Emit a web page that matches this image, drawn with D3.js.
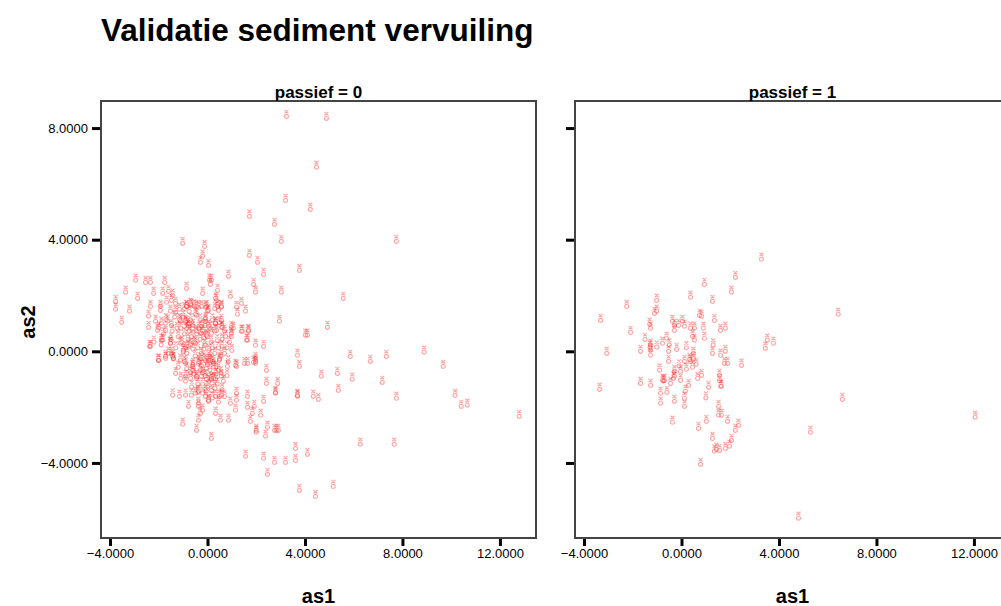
<!DOCTYPE html>
<html lang="en">
<head>
<meta charset="utf-8">
<title>Validatie sediment vervuiling</title>
<script src="https://d3js.org/d3.v7.min.js"></script>
<style>
  body { margin: 0; background: #fff; }
  svg { font-family: "Liberation Sans", Arial, sans-serif; }
</style>
</head>
<body>
<script>
// as1, as2 per object, split by passief
var passief0 = [
  [3.24,8.49],[4.88,8.42],[4.47,6.67],[3.20,5.48],[4.22,5.16],[1.72,4.91],[2.75,4.62],[3.03,4.01],[7.75,4.01],
  [-1.02,3.94],[-0.12,3.83],[1.72,3.51],[-0.20,3.48],[-0.29,3.26],[2.05,3.26],[0.04,3.15],[3.77,2.97],[2.30,2.83],
  [0.86,2.76],[-2.95,2.62],[-2.54,2.54],[-2.34,2.54],[-1.76,2.54],[0.08,2.62],[0.16,2.62],[0.12,2.47],[1.89,2.47],
  [-3.36,2.19],[-2.87,1.97],[-2.21,2.15],[-1.84,2.15],[-1.60,2.22],[-1.43,2.08],[-0.86,2.33],[-0.20,2.15],[0.41,2.26],
  [0.94,2.04],[1.97,2.19],[3.03,2.19],[5.57,1.97],[-3.77,1.86],[-3.77,1.58],[-3.20,1.51],[-3.52,1.11],[-2.34,1.68],
  [-1.93,1.68],[-1.68,1.83],[-1.48,1.90],[-1.31,1.79],[-1.93,1.54],[-1.52,1.51],[-1.31,1.47],[-2.42,1.33],[-2.13,1.15],
  [-1.89,1.08],[-1.64,1.15],[-1.48,1.00],[-2.42,0.93],[-2.05,0.82],[-1.72,0.82],[-2.38,0.25],[-1.89,0.47],[-1.52,0.36],
  [-2.01,-0.25],[-1.72,-0.11],[-1.43,-0.11],[0.37,1.90],[0.57,1.65],[0.45,1.54],[1.19,1.65],[1.39,1.79],[1.56,1.51],
  [1.23,1.40],[-1.15,1.58],[-0.86,1.68],[-0.70,1.76],[-0.37,1.65],[-0.08,1.65],[0.04,1.54],[-0.45,1.36],[-0.08,1.25],
  [0.33,1.08],[0.57,1.18],[0.61,0.93],[0.98,0.93],[0.98,0.61],[1.43,0.79],[1.68,0.79],[1.64,0.47],[1.97,0.29],[2.30,0.25],
  [2.95,1.15],[4.02,0.65],[4.10,0.65],[4.92,0.93],[3.69,-0.07],[5.86,-0.11],[6.68,-0.29],[7.34,-0.11],[8.89,0.04],
  [1.97,-0.29],[0.33,1.97],[0.41,1.68],[0.57,1.68],
  [-0.86,1.68],[-0.66,1.72],[-0.45,1.68],[-0.25,1.68],[-0.04,1.68],
  [-1.11,1.15],[-0.90,1.15],[-0.78,0.97],[-0.62,0.90],[-0.45,0.79],[-0.25,0.97],
  [-0.08,1.15],[0.04,0.97],[0.33,1.08],[0.37,0.82],[0.57,0.93],[-0.25,0.72],[-0.04,0.65],[0.16,0.72],
  [0.74,0.61],[0.98,0.72],[1.06,0.90],[1.39,0.79],[1.68,0.82],[1.60,0.47],
  [-2.34,0.25],[-1.84,0.47],[-1.52,0.36],[-1.48,0.00],[-1.11,0.36],[-0.98,0.11],[-0.78,0.25],[-0.49,0.36],
  [-2.01,-0.25],[-1.72,-0.18],[-1.40,-0.18],[-1.11,-0.25],[-0.90,-0.36],[-0.62,-0.47],[-0.37,-0.36],[-0.08,-0.25],
  [0.12,-0.25],[0.25,-0.36],[0.49,-0.25],[0.82,-0.47],[1.15,-0.43],[1.19,-0.47],[1.52,-0.36],[1.64,-0.36],[1.97,-0.18],
  [-1.31,-0.72],[-0.90,-0.82],[-0.70,-0.90],[-0.45,-0.82],[-0.25,-0.82],[-0.04,-0.93],[0.16,-0.90],[0.33,-0.93],
  [0.57,-0.82],[2.42,-1.08],
  [-1.43,-1.50],[-1.15,-1.54],[-0.90,-1.50],[-0.66,-1.50],[-0.49,-1.43],[-0.37,-1.36],[-0.20,-1.43],[-0.08,-1.54],
  [0.16,-1.33],[0.33,-1.54],[0.49,-1.54],[0.57,-1.50],[1.19,-1.43],[1.19,-1.68],[0.94,-1.79],[1.15,-2.04],[1.64,-1.54],
  [1.64,-1.94],[-0.78,-1.90],[-0.37,-1.79],[-0.37,-1.90],[0.04,-1.68],[0.04,-1.72],[-0.29,-2.15],[-0.37,-2.40],
  [-0.20,-2.04],[0.33,-2.15],[0.53,-2.40],[0.86,-2.40],[-1.02,-2.54],[-0.45,-2.76],[0.16,-3.05],
  [1.92,-1.90],[1.84,-2.15],[1.76,-2.44],[2.18,-2.22],[2.30,-1.72],[2.79,-1.43],[2.00,-2.76],[2.00,-2.83],
  [2.46,-2.65],[2.38,-2.97],[2.75,-2.76],[2.83,-2.76],[2.91,-2.76],
  [9.67,-0.47],[3.77,-0.47],[4.67,-0.82],[5.33,-0.72],[5.94,-0.93],[7.17,-1.04],[5.37,-1.33],[7.75,-1.61],
  [10.16,-1.51],[10.41,-1.90],[10.66,-1.86],[12.79,-2.26],[3.69,-1.51],[3.69,-1.54],[4.34,-1.54],[4.55,-1.65],
  [2.79,-1.40],[2.88,-1.08],[2.42,-0.61],[1.97,-0.36],[1.89,-0.32],
  [1.56,-3.69],[2.30,-3.76],[2.75,-3.91],[3.20,-3.91],[3.61,-3.84],[3.61,-3.41],[4.10,-3.62],[2.46,-4.34],
  [3.77,-4.91],[4.43,-5.13],[5.16,-4.77],[6.27,-3.26],[7.66,-3.26],
  // dichte kern
  [-1.0,1.3],[-0.9,1.1],[-0.85,0.9],[-0.95,0.7],[-0.7,1.2],[-0.6,1.0],[-0.75,0.8],[-0.65,0.6],[-0.8,0.5],
  [-1.1,0.9],[-1.2,0.6],[-1.05,0.4],[-0.9,0.2],[-0.7,0.3],[-0.55,0.4],[-0.45,0.7],[-0.4,0.2],[-0.3,0.5],
  [-0.2,0.8],[-0.25,0.0],[-0.1,0.3],[0.0,0.6],[0.05,0.1],[0.15,0.4],[-0.15,-0.2],[-0.35,-0.3],[0.0,-0.4],
  [0.1,-0.1],[0.2,-0.3],[-0.5,-0.1],[-0.6,-0.4],[-0.3,-0.6],[-0.1,-0.8],[0.1,-0.6],[0.25,-0.9],[-0.45,-0.9],
  [-0.7,-0.7],[-0.2,-1.1],[0.0,-1.2],[0.3,0.0],[0.35,-0.5],[0.45,0.2],[0.5,-0.2],[0.6,0.5],[0.55,-0.7],
  [0.7,0.0],[-1.3,0.2],[-1.4,-0.2],[-1.2,-0.5],[-0.95,-0.3],[-0.85,0.0],[-1.5,0.5],[-1.6,0.0],[-1.35,1.3],
  [-1.15,1.2],[-0.5,1.4],[-0.3,1.2],[-0.1,1.0],[0.1,0.9],[0.3,0.8],[0.2,1.2],[0.5,1.1],[0.7,0.8],[0.9,0.4],
  [0.85,-0.3],[1.0,0.1],[-0.65,-1.2],[-0.4,-1.4],[0.4,-1.1],[0.6,-1.3],[-0.9,-1.0],[-1.1,-0.9],[-0.75,1.5],
  [-0.95,1.6],[-0.55,1.7],[0.0,1.5],[0.3,1.6],[-1.25,0.9],[-1.45,0.8],[-1.7,1.2],[-1.8,0.7],[-2.0,0.9],
  [-1.9,0.3],[-2.2,0.4],[-0.85,-0.55],[-0.25,-0.45],[0.05,-0.25],[0.4,0.45],[-0.6,0.15],[-0.35,0.9],
  [-0.15,0.55],[-0.8,1.05],[-1.0,0.05],[0.2,0.2],[0.6,0.25],[-0.05,-0.55],[-0.55,-0.75],[0.15,-0.95],
  [0.35,-0.75],[-0.3,-0.2],
  [-0.2,-0.7],[0.05,-1.0],[0.3,-1.25],[0.45,-0.6],[0.65,-1.0],[0.8,-0.8],[-0.05,-1.35],[0.2,-1.6],
  [0.45,-1.75],[0.7,-1.55],[-0.4,-1.1],[-0.6,-0.6],[0.25,-0.5],[0.55,-0.1],[0.8,0.2],[-0.15,0.15]
];

var passief1 = [
  [3.28,3.37],[2.21,2.72],[0.94,2.47],[2.05,2.19],[-2.25,1.68],[-1.02,1.90],[0.37,2.01],[1.27,1.86],[-3.32,1.18],
  [-2.09,0.75],[-1.11,1.43],[-1.02,1.51],[-1.31,1.04],[-1.27,0.90],[-0.37,1.15],[-0.29,0.82],[-0.12,1.00],
  [0.04,1.15],[0.12,0.97],[0.37,0.90],[0.53,0.90],[0.45,0.61],[0.53,0.47],[0.74,1.36],[0.82,1.33],[0.94,0.54],
  [1.35,1.18],[1.60,0.82],[1.80,0.90],[6.43,1.40],[3.52,0.47],[3.77,0.36],[3.44,0.18],[-3.07,0.00],[-1.68,0.07],
  [-1.27,0.29],[-1.27,0.11],[-1.27,-0.07],[-1.02,0.22],[-0.78,0.36],[-0.61,0.54],[-0.53,0.07],[-0.20,0.14],
  [-0.53,-0.29],[0.12,-0.29],[0.33,-0.22],[0.37,-0.29],[0.20,-0.57],[0.45,-0.50],[0.49,0.00],[1.27,0.00],
  [1.60,-0.07],[1.80,0.07],[1.76,-0.36],[1.89,-0.36],[2.46,-0.43],[-3.36,-1.29],[-1.68,-1.08],[-1.27,-1.15],
  [-0.78,-0.97],[-0.70,-0.97],[-0.45,-1.08],[-0.29,-0.82],[-0.29,-0.65],[-0.04,-0.65],[-0.04,-0.97],[0.29,-1.15],
  [0.16,-1.36],[0.66,-0.90],[0.82,-0.79],[1.11,-1.22],[1.56,-0.97],[1.56,-0.79],[1.60,-1.18],[1.64,-1.18],
  [-0.86,-1.43],[-0.86,-1.79],[-0.29,-1.72],[0.12,-1.61],[0.12,-1.90],[1.52,-1.90],[1.52,-2.22],[1.64,-2.22],
  [-0.37,-2.47],[0.70,-2.69],[1.02,-2.44],[1.89,-2.44],[2.34,-2.58],[2.21,-2.76],[1.27,-3.05],[2.05,-3.12],
  [1.97,-3.33],[1.80,-3.41],[1.35,-3.51],[1.43,-3.44],[1.56,-3.48],[0.78,-3.98],[5.29,-2.83],[6.60,-1.65],
  [12.05,-2.29],[4.80,-5.91],[-0.74,-1.00],[-0.33,-0.90],[-0.29,1.00],[-1.29,0.22],[0.49,-0.18],
  [-0.5,0.3],[0.2,0.2],[-0.1,-0.45],[0.6,-0.4],[-0.9,-0.6],[1.3,0.3],[0.9,0.9],[-0.6,-1.4],[1.0,-1.6],[-1.5,0.5]
];

var panels = ["passief = 0", "passief = 1"];
var xTicks = [-4, 0, 4, 8, 12];
var yTicks = [-4, 0, 4, 8];

var W = 1001, H = 606;
var boxW = 435, boxH = 437;
var boxX = [101, 575], boxY = 101;

var svg = d3.select("body").append("svg")
    .attr("width", W)
    .attr("height", H);

svg.append("text")
    .attr("x", 101)
    .attr("y", 41)
    .attr("font-size", "31.5px")
    .attr("font-weight", "bold")
    .attr("fill", "#000")
    .text("Validatie sediment vervuiling");

var x = d3.scaleLinear().domain([-4.37, 13.48]).range([0, boxW]);
var y = d3.scaleLinear().domain([-6.69, 8.97]).range([boxH, 0]);
var fmt = d3.format(".4f");

// klein glyph: kruisje boven een rondje
var marker = "M-2,-4.5L2,-1M2,-4.5L-2,-1M2,2a2,2 0 1,1 -4,0a2,2 0 1,1 4,0";

[passief0, passief1].forEach(function(data, i) {
    var g = svg.append("g").attr("transform", "translate(" + boxX[i] + "," + boxY + ")");

    g.append("rect")
        .attr("width", boxW)
        .attr("height", boxH)
        .attr("fill", "none")
        .attr("stroke", "#444")
        .attr("stroke-width", 2);

    g.append("text")
        .attr("x", boxW / 2)
        .attr("y", -3)
        .attr("text-anchor", "middle")
        .attr("font-size", "17px")
        .attr("font-weight", "bold")
        .text(panels[i]);

    // x as
    var xa = g.append("g")
        .attr("transform", "translate(0," + (boxH + 1) + ")")
        .call(d3.axisBottom(x).tickValues(xTicks).tickFormat(fmt).tickSize(7).tickPadding(3));
    xa.select(".domain").remove();
    xa.selectAll("line").attr("stroke", "#000").attr("stroke-width", 3);
    xa.selectAll("text").attr("font-size", "13px").attr("fill", "#000").attr("font-family", "Liberation Sans, Arial, sans-serif");

    // y as
    var ya = g.append("g")
        .attr("transform", "translate(-1,0)")
        .call(d3.axisLeft(y).tickValues(yTicks).tickFormat(i === 0 ? fmt : "").tickSize(8).tickPadding(4));
    ya.select(".domain").remove();
    ya.selectAll("line").attr("stroke", "#000").attr("stroke-width", 3);
    ya.selectAll("text").attr("font-size", "13px").attr("fill", "#000").attr("font-family", "Liberation Sans, Arial, sans-serif");

    g.selectAll("path.pt")
        .data(data)
        .enter()
        .append("path")
        .attr("class", "pt")
        .attr("d", marker)
        .attr("transform", function(d) {
            return "translate(" + x(d[0]) + "," + y(d[1]) + ")";
        })
        .attr("fill", "none")
        .attr("stroke", "#ff0000")
        .attr("stroke-opacity", 0.35)
        .attr("stroke-width", 1.2);

    g.append("text")
        .attr("x", boxW / 2)
        .attr("y", 502)
        .attr("text-anchor", "middle")
        .attr("font-size", "20px")
        .attr("font-weight", "bold")
        .text("as1");
});

svg.append("text")
    .attr("transform", "translate(35,322) rotate(-90)")
    .attr("text-anchor", "middle")
    .attr("font-size", "20px")
    .attr("font-weight", "bold")
    .text("as2");
</script>
</body>
</html>
